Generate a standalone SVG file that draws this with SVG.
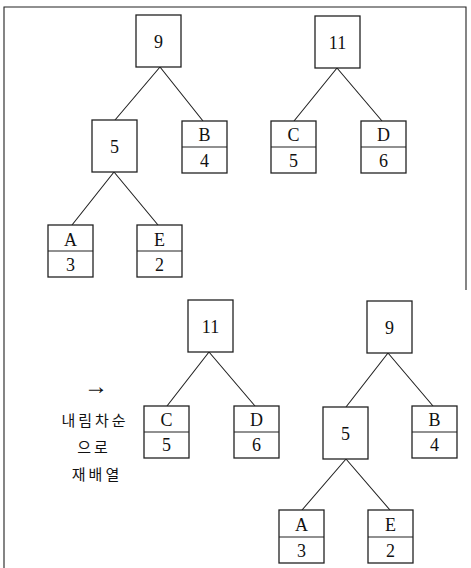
<svg xmlns="http://www.w3.org/2000/svg" width="471" height="568" viewBox="0 0 471 568">
<style>
.box{fill:#fff;stroke:#222;stroke-width:1.3}
.ln{stroke:#222;stroke-width:1.1;fill:none}
.t{font-family:"Liberation Serif","DejaVu Serif",serif;font-size:18px;fill:#111;text-anchor:middle}
.k{font-family:"Noto Sans CJK KR","Noto Sans",sans-serif;font-size:15px;fill:#111;text-anchor:middle;letter-spacing:3px}
</style>
<rect width="471" height="568" fill="#fff"/>
<g id="frame" class="ln">
<path d="M4 568 V7 H466 V290"/>
</g>
<g id="connectors" class="ln">
<path d="M160 67 L115 120 M160 67 L203 121"/>
<path d="M337 68 L294 121 M337 68 L382 121"/>
<path d="M114 172 L72 225 M114 172 L158 225"/>
<path d="M209 352 L167 406 M209 352 L255 406"/>
<path d="M388 353 L346 407 M388 353 L433 406"/>
<path d="M346 459 L302 510 M346 459 L390 510"/>
</g>
<g id="n9a"><rect class="box" x="136" y="15" width="45" height="52"/><text class="t" x="158.5" y="48">9</text></g>
<g id="n11a"><rect class="box" x="315" y="16" width="45" height="52"/><text class="t" x="337.5" y="49">11</text></g>
<g id="n5a"><rect class="box" x="92" y="120" width="45" height="52"/><text class="t" x="114.5" y="153">5</text></g>
<g id="nBa"><rect class="box" x="182" y="121" width="45" height="52"/><line class="ln" x1="182" y1="147" x2="227" y2="147"/><text class="t" x="204.5" y="141">B</text><text class="t" x="204.5" y="167">4</text></g>
<g id="nCa"><rect class="box" x="271" y="121" width="45" height="52"/><line class="ln" x1="271" y1="147" x2="316" y2="147"/><text class="t" x="293.5" y="141">C</text><text class="t" x="293.5" y="167">5</text></g>
<g id="nDa"><rect class="box" x="361" y="121" width="45" height="52"/><line class="ln" x1="361" y1="147" x2="406" y2="147"/><text class="t" x="383.5" y="141">D</text><text class="t" x="383.5" y="167">6</text></g>
<g id="nAa"><rect class="box" x="48" y="225" width="45" height="52"/><line class="ln" x1="48" y1="251" x2="93" y2="251"/><text class="t" x="70.5" y="246">A</text><text class="t" x="70.5" y="271">3</text></g>
<g id="nEa"><rect class="box" x="137" y="225" width="45" height="52"/><line class="ln" x1="137" y1="251" x2="182" y2="251"/><text class="t" x="159.5" y="246">E</text><text class="t" x="159.5" y="271">2</text></g>
<g id="label"><text class="t" x="96" y="394" style="font-size:24px">→</text><text class="k" x="95" y="426">내림차순</text><text class="k" x="94" y="453">으로</text><text class="k" x="97" y="480">재배열</text></g>
<g id="n11b"><rect class="box" x="188" y="300" width="45" height="52"/><text class="t" x="210.5" y="333">11</text></g>
<g id="n9b"><rect class="box" x="367" y="301" width="45" height="52"/><text class="t" x="389.5" y="334">9</text></g>
<g id="nCb"><rect class="box" x="144" y="406" width="45" height="52"/><line class="ln" x1="144" y1="432" x2="189" y2="432"/><text class="t" x="166.5" y="426">C</text><text class="t" x="166.5" y="451">5</text></g>
<g id="nDb"><rect class="box" x="234" y="406" width="45" height="52"/><line class="ln" x1="234" y1="432" x2="279" y2="432"/><text class="t" x="256.5" y="426">D</text><text class="t" x="256.5" y="451">6</text></g>
<g id="n5b"><rect class="box" x="323" y="407" width="45" height="52"/><text class="t" x="345.5" y="440">5</text></g>
<g id="nBb"><rect class="box" x="412" y="406" width="45" height="52"/><line class="ln" x1="412" y1="432" x2="457" y2="432"/><text class="t" x="434.5" y="426">B</text><text class="t" x="434.5" y="451">4</text></g>
<g id="nAb"><rect class="box" x="279" y="510" width="45" height="53"/><line class="ln" x1="279" y1="537" x2="324" y2="537"/><text class="t" x="301.5" y="531">A</text><text class="t" x="301.5" y="557">3</text></g>
<g id="nEb"><rect class="box" x="368" y="510" width="45" height="53"/><line class="ln" x1="368" y1="537" x2="413" y2="537"/><text class="t" x="390.5" y="531">E</text><text class="t" x="390.5" y="557">2</text></g>
</svg>
